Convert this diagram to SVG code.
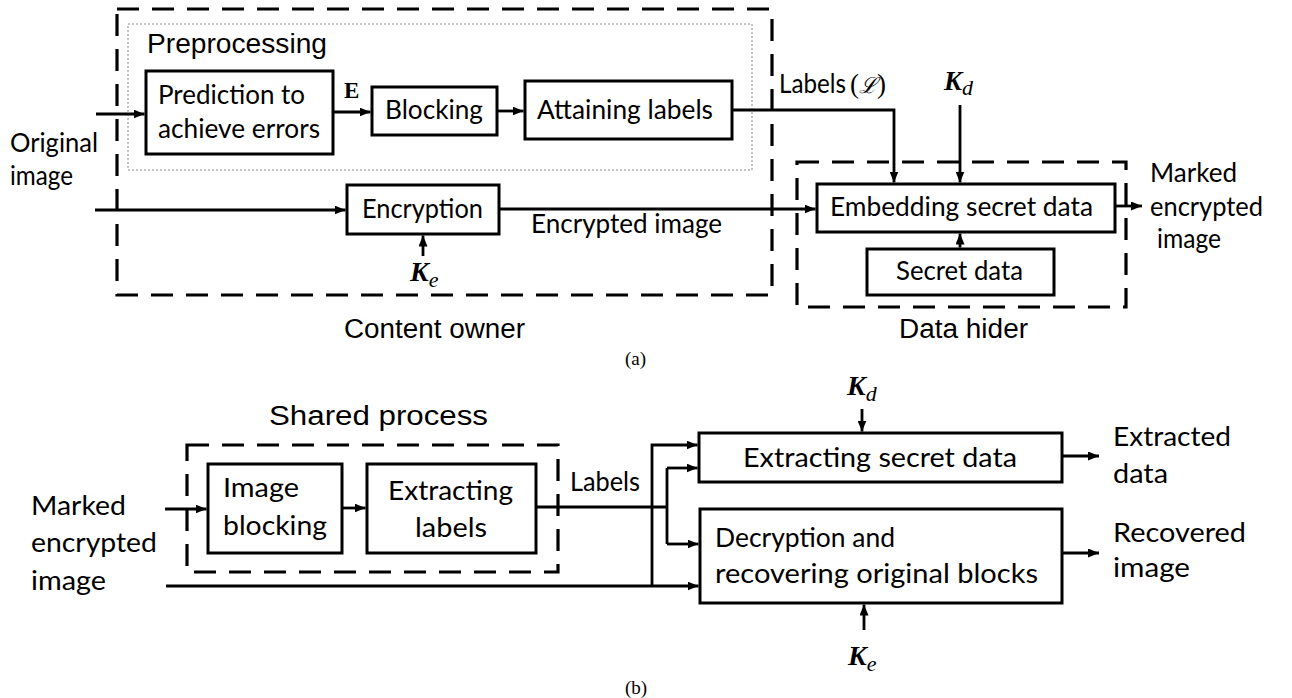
<svg xmlns="http://www.w3.org/2000/svg" width="1292" height="698" viewBox="0 0 1292 698">
<defs>
<marker id="ah" markerWidth="11" markerHeight="9" refX="11" refY="4.5" orient="auto" markerUnits="userSpaceOnUse">
<path d="M0,0 L11,4.5 L0,9 z" fill="#000"/>
</marker>
<style>
.box{fill:#fff;stroke:#000;stroke-width:3}
.grp{fill:none;stroke:#000;stroke-width:3.2;stroke-dasharray:22 13}
.dot{fill:none;stroke:#888;stroke-width:1;stroke-dasharray:2 2}
.c{font-family:Lato,"Open Sans","Liberation Sans",sans-serif;font-size:26.5px;fill:#000}
.a{font-family:"Liberation Sans",Arial,sans-serif;font-size:27px;fill:#000}
.m{font-family:"Liberation Serif","DejaVu Serif",serif;fill:#000}
.cap{font-family:"Liberation Serif","Times New Roman",serif;font-size:19px;fill:#000}
.con path{fill:none;stroke:#000;stroke-width:2.8}
.arr{marker-end:url(#ah)}
</style>
</defs>
<rect width="1292" height="698" fill="#fff"/>

<!-- Part (a) groups -->
<g id="content-owner">
<rect class="grp" x="117" y="9" width="655" height="286"/>
<text class="a" x="344" y="338" textLength="181" lengthAdjust="spacingAndGlyphs">Content owner</text>
</g>
<g id="preprocessing">
<rect class="dot" x="128" y="24" width="624" height="146"/>
<text class="a" x="147" y="53" textLength="180" lengthAdjust="spacingAndGlyphs">Preprocessing</text>
</g>
<g id="data-hider">
<rect class="grp" x="797" y="162" width="329" height="145"/>
<text class="a" x="899" y="338" textLength="129" lengthAdjust="spacingAndGlyphs">Data hider</text>
</g>

<g id="original-image">
<text class="c" x="10" y="152" textLength="88" lengthAdjust="spacingAndGlyphs">Original</text>
<text class="c" x="10" y="185" textLength="63" lengthAdjust="spacingAndGlyphs">image</text>
</g>
<g id="prediction">
<rect class="box" x="146" y="71" width="187" height="83"/>
<text class="c" x="158" y="104" textLength="147" lengthAdjust="spacingAndGlyphs">Prediction to</text>
<text class="c" x="158" y="138" textLength="162" lengthAdjust="spacingAndGlyphs">achieve errors</text>
</g>
<g id="e-label">
<text class="m" x="344" y="98" font-size="23" font-weight="bold">E</text>
</g>
<g id="blocking">
<rect class="box" x="372" y="87" width="125" height="48"/>
<text class="c" x="385" y="119" textLength="98" lengthAdjust="spacingAndGlyphs">Blocking</text>
</g>
<g id="attaining">
<rect class="box" x="525" y="81" width="207" height="58"/>
<text class="c" x="537" y="119" textLength="176" lengthAdjust="spacingAndGlyphs">Attaining labels</text>
</g>
<g id="labels-l">
<text class="c" x="779" y="93" textLength="67" lengthAdjust="spacingAndGlyphs">Labels</text>
<text class="m" x="850" y="93" font-size="27">(<tspan font-family="'DejaVu Serif',serif" font-style="italic" font-size="22">ℒ</tspan>)</text>
</g>
<g id="kd-a">
<text class="m" x="944" y="90" font-size="27"><tspan font-weight="bold" font-style="italic">K</tspan><tspan font-style="italic" font-size="22" dy="5">d</tspan></text>
</g>
<g id="encryption">
<rect class="box" x="347" y="185" width="152" height="49"/>
<text class="c" x="362" y="218" textLength="121" lengthAdjust="spacingAndGlyphs">Encryption</text>
</g>
<g id="ke-a">
<text class="m" x="410" y="281" font-size="28"><tspan font-weight="bold" font-style="italic">K</tspan><tspan font-style="italic" font-size="22" dy="6">e</tspan></text>
</g>
<g id="encrypted-image">
<text class="c" x="531" y="233" textLength="191" lengthAdjust="spacingAndGlyphs">Encrypted image</text>
</g>
<g id="embedding">
<rect class="box" x="817" y="184" width="298" height="48"/>
<text class="c" x="830" y="216" textLength="263" lengthAdjust="spacingAndGlyphs">Embedding secret data</text>
</g>
<g id="secret-data">
<rect class="box" x="867" y="249" width="187" height="46"/>
<text class="c" x="896" y="280" textLength="127" lengthAdjust="spacingAndGlyphs">Secret data</text>
</g>
<g id="marked-out">
<text class="c" x="1150" y="182" textLength="87" lengthAdjust="spacingAndGlyphs">Marked</text>
<text class="c" x="1150" y="216" textLength="113" lengthAdjust="spacingAndGlyphs">encrypted</text>
<text class="c" x="1157" y="248" textLength="64" lengthAdjust="spacingAndGlyphs">image</text>
</g>
<g id="cap-a"><text class="cap" x="625" y="365">(a)</text></g>

<!-- Part (b) -->
<g id="shared">
<rect class="grp" x="187" y="445" width="371" height="127"/>
<text class="a" x="269" y="425" textLength="219" lengthAdjust="spacingAndGlyphs">Shared process</text>
</g>
<g id="marked-in">
<text class="c" x="31" y="515" textLength="95" lengthAdjust="spacingAndGlyphs">Marked</text>
<text class="c" x="31" y="552" textLength="126" lengthAdjust="spacingAndGlyphs">encrypted</text>
<text class="c" x="31" y="590" textLength="75" lengthAdjust="spacingAndGlyphs">image</text>
</g>
<g id="image-blocking">
<rect class="box" x="208" y="464" width="134" height="89"/>
<text class="c" x="223" y="497" textLength="76" lengthAdjust="spacingAndGlyphs">Image</text>
<text class="c" x="223" y="535" textLength="104" lengthAdjust="spacingAndGlyphs">blocking</text>
</g>
<g id="extracting-labels">
<rect class="box" x="367" y="464" width="169" height="89"/>
<text class="c" x="388" y="500" textLength="125" lengthAdjust="spacingAndGlyphs">Extracting</text>
<text class="c" x="415" y="537" textLength="72" lengthAdjust="spacingAndGlyphs">labels</text>
</g>
<g id="labels-b">
<text class="c" x="570" y="491" font-size="24" textLength="70" lengthAdjust="spacingAndGlyphs">Labels</text>
</g>
<g id="kd-b">
<text class="m" x="847" y="395" font-size="28"><tspan font-weight="bold" font-style="italic">K</tspan><tspan font-style="italic" font-size="22" dy="6">d</tspan></text>
</g>
<g id="extracting-secret">
<rect class="box" x="699" y="433" width="363" height="49"/>
<text class="c" x="743" y="467" textLength="274" lengthAdjust="spacingAndGlyphs">Extracting secret data</text>
</g>
<g id="decryption">
<rect class="box" x="700" y="509" width="362" height="94"/>
<text class="c" x="715" y="547" textLength="180" lengthAdjust="spacingAndGlyphs">Decryption and</text>
<text class="c" x="715" y="583" textLength="323" lengthAdjust="spacingAndGlyphs">recovering original blocks</text>
</g>
<g id="ke-b">
<text class="m" x="848" y="665" font-size="28"><tspan font-weight="bold" font-style="italic">K</tspan><tspan font-style="italic" font-size="22" dy="6">e</tspan></text>
</g>
<g id="extracted-data">
<text class="c" x="1113" y="446" textLength="118" lengthAdjust="spacingAndGlyphs">Extracted</text>
<text class="c" x="1113" y="483" textLength="55" lengthAdjust="spacingAndGlyphs">data</text>
</g>
<g id="recovered-image">
<text class="c" x="1113" y="542" textLength="133" lengthAdjust="spacingAndGlyphs">Recovered</text>
<text class="c" x="1113" y="577" textLength="77" lengthAdjust="spacingAndGlyphs">image</text>
</g>
<g id="cap-b"><text class="cap" x="625" y="694">(b)</text></g>

<g id="connectors" class="con">
<path class="arr" d="M96,114 H144.5"/>
<path class="arr" d="M334,112 H370.5"/>
<path class="arr" d="M498,111 H523.5"/>
<path class="arr" d="M733,110 H894 V182.5"/>
<path class="arr" d="M960,105 V182.5"/>
<path class="arr" d="M95,210 H345.5"/>
<path class="arr" d="M423,256 V235.5"/>
<path class="arr" d="M500,209 H815.5"/>
<path class="arr" d="M960,247.5 V233.5"/>
<path class="arr" d="M1116,206 H1142"/>
<path class="arr" d="M165,509 H206.5"/>
<path class="arr" d="M343,508 H365.5"/>
<path d="M537,507 H667"/>
<path d="M667,468 V544"/>
<path class="arr" d="M667,468 H697.5"/>
<path class="arr" d="M667,544 H698.5"/>
<path class="arr" d="M166,586 H698.5"/>
<path class="arr" d="M652,586 V445 H697.5"/>
<path class="arr" d="M862,409 V431.5"/>
<path class="arr" d="M864,630 V604.5"/>
<path class="arr" d="M1063,456 H1099"/>
<path class="arr" d="M1063,553 H1099"/>
</g>
</svg>
